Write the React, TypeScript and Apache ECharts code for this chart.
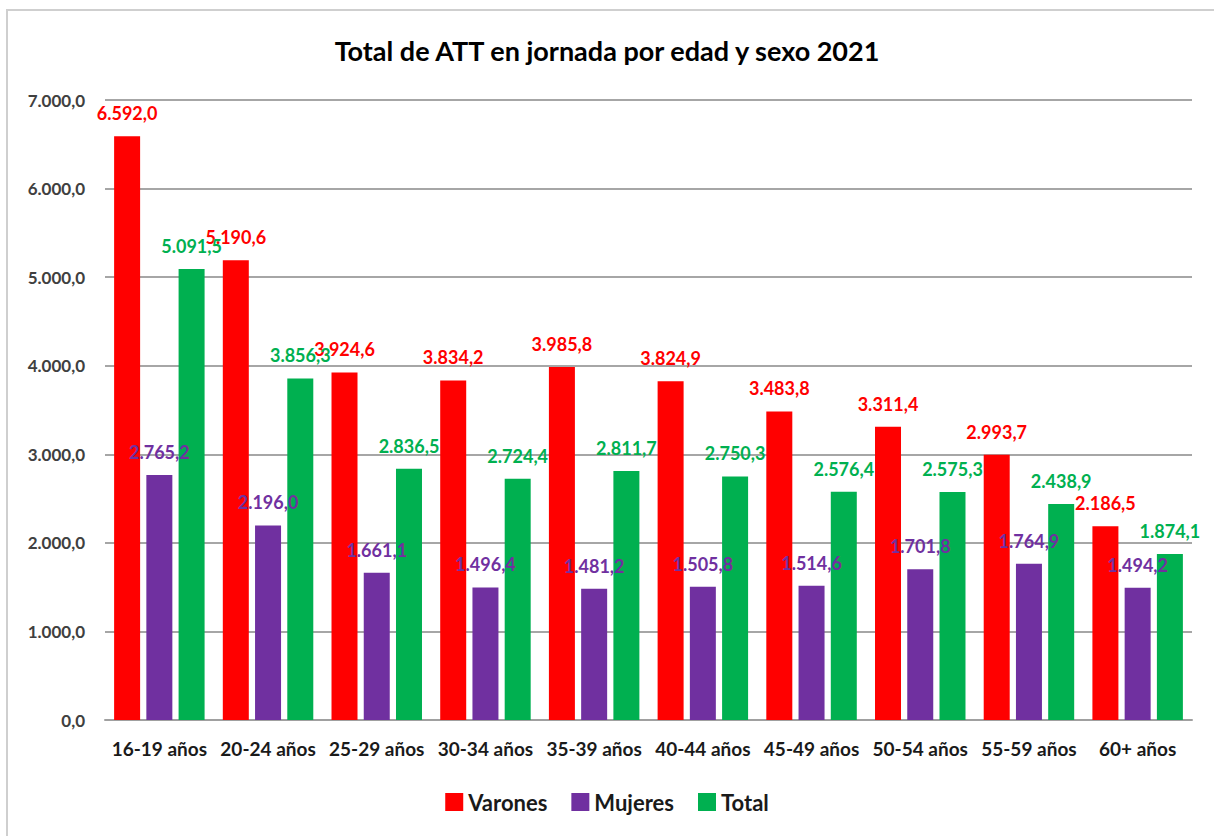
import React, { useEffect, useRef } from "react";
import * as echarts from "echarts";

const categories = ["16-19 años", "20-24 años", "25-29 años", "30-34 años", "35-39 años", "40-44 años", "45-49 años", "50-54 años", "55-59 años", "60+ años"];
const varones = [6592.0, 5190.6, 3924.6, 3834.2, 3985.8, 3824.9, 3483.8, 3311.4, 2993.7, 2186.5];
const mujeres = [2765.2, 2196.0, 1661.1, 1496.4, 1481.2, 1505.8, 1514.6, 1701.8, 1764.9, 1494.2];
const total = [5091.5, 3856.3, 2836.5, 2724.4, 2811.7, 2750.3, 2576.4, 2575.3, 2438.9, 1874.1];

const FONT = "Lato, 'Open Sans', sans-serif";

function fmt(v: number): string {
  const fixed = v.toFixed(1);
  const [intPart, dec] = fixed.split(".");
  const withDots = intPart.replace(/\B(?=(\d{3})+(?!\d))/g, ".");
  return withDots + "," + dec;
}

export default function App() {
  const ref = useRef<HTMLDivElement>(null);
  useEffect(() => {
    document.body.style.margin = "0";
    const chart = echarts.init(ref.current!, null, { renderer: "svg" });
    const mk = (name: string, data: number[], color: string) => ({
      name,
      type: "bar",
      data,
      barWidth: 26,
      barGap: "24%",
      itemStyle: { color },
      label: {
        show: true,
        position: "top",
        distance: 14,
        color,
        fontFamily: FONT,
        fontWeight: "bold",
        fontSize: 18,
        formatter: (p: any) => fmt(p.value),
      },
    });
    chart.setOption({
      animation: false,
      backgroundColor: "#fff",
      title: {
        text: "Total de ATT en jornada por edad y sexo 2021",
        left: "center",
        top: 32,
        textStyle: { fontFamily: FONT, fontWeight: "bold", fontSize: 27, color: "#000" },
      },
      graphic: [
        {
          type: "rect",
          shape: { x: 7, y: 10, width: 1300, height: 900 },
          style: { fill: "none", stroke: "#cfcfcf", lineWidth: 2 },
          silent: true,
        },
      ],
      legend: {
        bottom: 18,
        left: "center",
        itemWidth: 18,
        itemHeight: 18,
        itemGap: 24,
        icon: "rect",
        textStyle: { fontFamily: FONT, fontWeight: "bold", fontSize: 22, color: "#1a1a1a" },
        data: ["Varones", "Mujeres", "Total"],
      },
      grid: { left: 105, right: 22, top: 100, bottom: 116, containLabel: false },
      xAxis: {
        type: "category",
        data: categories,
        axisTick: { show: false },
        axisLine: { lineStyle: { color: "#a0a0a0", width: 2 } },
        axisLabel: {
          fontFamily: FONT,
          fontWeight: "bold",
          fontSize: 19,
          color: "#1a1a1a",
          margin: 19,
          interval: 0,
        },
      },
      yAxis: {
        type: "value",
        min: 0,
        max: 7000,
        interval: 1000,
        axisLine: { show: false },
        axisTick: { show: false },
        splitLine: { lineStyle: { color: "#a6a6a6", width: 2 } },
        axisLabel: {
          fontFamily: FONT,
          fontWeight: "bold",
          fontSize: 17,
          color: "#404040",
          margin: 20,
          formatter: (v: number) => fmt(v),
        },
      },
      series: [
        mk("Varones", varones, "#FF0000"),
        mk("Mujeres", mujeres, "#7030A0"),
        mk("Total", total, "#00B050"),
      ],
    });
    return () => chart.dispose();
  }, []);
  return <div ref={ref} style={{ width: 1214, height: 836 }} />;
}
